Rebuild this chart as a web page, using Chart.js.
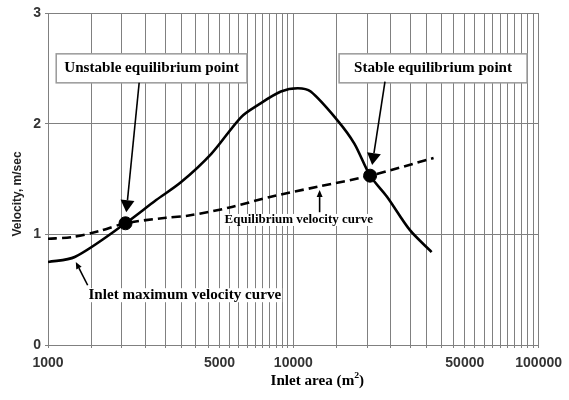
<!DOCTYPE html>
<html>
<head>
<meta charset="utf-8">
<script src="https://cdn.jsdelivr.net/npm/chart.js@4/dist/chart.umd.min.js"></script>
<style>html,body{margin:0;padding:0;background:#fff}</style>
</head>
<body>
<canvas id="velChart" width="569" height="400"></canvas>
<script>
// inlet maximum velocity curve (solid)
var inletArea = [1000, 1285, 2070, 2760, 3480, 4640, 6130, 7190, 8900, 10430, 11770, 15130, 17730, 20560, 24090, 29830, 36610];
var inletVelocity = [0.75, 0.795, 1.10, 1.31, 1.47, 1.73, 2.06, 2.17, 2.29, 2.32, 2.29, 2.03, 1.82, 1.53, 1.34, 1.04, 0.84];

// equilibrium velocity curve (dashed)
var equilArea = [1000, 1260, 1620, 2070, 3030, 3750, 5440, 8110, 12560, 20560, 37300];
var equilVelocity = [0.96, 0.975, 1.03, 1.10, 1.15, 1.17, 1.24, 1.34, 1.43, 1.53, 1.69];

// the two equilibrium points
var pointArea = [2070, 20560];
var pointVelocity = [1.10, 1.53];

var xTickLabels = [1000, 5000, 10000, 50000, 100000];
var yTickLabels = [0, 1, 2, 3];

function toXY(xs, ys) {
  return xs.map(function (x, i) { return {x: x, y: ys[i]}; });
}

// grid every 500 in first decade, every 5000 in the second
var xGrid = [];
for (var g = 1000; g < 10000; g += 500) xGrid.push(g);
for (var g2 = 10000; g2 <= 100000; g2 += 5000) xGrid.push(g2);

var serif = '"Liberation Serif", "Times New Roman", serif';
var sans = '"Liberation Sans", Arial, sans-serif';
var stretch = 1.08; // the scanned text is a bit wider than Liberation Serif

// callouts, positions in data units
var callouts = [
  {text: 'Unstable equilibrium point', at: [2644, 2.50], size: 14, box: 8,
   tail: [2353, 2.37], tip: [2085, 1.20], head: [12, 7]},
  {text: 'Stable equilibrium point', at: [37130, 2.50], size: 14, box: 15,
   tail: [23640, 2.38], tip: [20955, 1.626], head: [12, 7]},
  {text: 'Equilibrium velocity curve', at: [10525, 1.13], size: 12, box: 0,
   tail: [12800, 1.20], tip: [12800, 1.40], head: [7, 3]},
  {text: 'Inlet maximum velocity curve', at: [3611, 0.45], size: 14, box: 0,
   tail: [1451, 0.54], tip: [1298, 0.75], head: [7, 3]}
];

function arrow(ctx, x1, y1, x2, y2, len, half) {
  var a = Math.atan2(y2 - y1, x2 - x1);
  var bx = x2 - len * Math.cos(a), by = y2 - len * Math.sin(a);
  ctx.beginPath();
  ctx.moveTo(x1, y1);
  ctx.lineTo(bx, by);
  ctx.stroke();
  ctx.beginPath();
  ctx.moveTo(x2, y2);
  ctx.lineTo(bx + half * Math.sin(a), by - half * Math.cos(a));
  ctx.lineTo(bx - half * Math.sin(a), by + half * Math.cos(a));
  ctx.closePath();
  ctx.fill();
}

function wideText(ctx, text, x, y) {
  ctx.save();
  ctx.translate(x, y);
  ctx.scale(stretch, 1);
  ctx.fillText(text, 0, 0);
  ctx.restore();
}

var calloutPlugin = {
  id: 'callouts',
  afterDatasetsDraw: function (chart) {
    var ctx = chart.ctx, xs = chart.scales.x, ys = chart.scales.y;
    ctx.save();
    callouts.forEach(function (c) {
      var cx = xs.getPixelForValue(c.at[0]), cy = ys.getPixelForValue(c.at[1]);
      ctx.font = 'bold ' + c.size + 'px ' + serif;
      var w = ctx.measureText(c.text).width * stretch;
      if (c.box) {
        ctx.fillStyle = '#fff';
        ctx.strokeStyle = '#999';
        ctx.lineWidth = 1.5;
        ctx.fillRect(cx - w / 2 - c.box, cy - 14.5, w + 2 * c.box, 29);
        ctx.strokeRect(cx - w / 2 - c.box, cy - 14.5, w + 2 * c.box, 29);
      } else {
        ctx.fillStyle = '#fff';
        ctx.fillRect(cx - w / 2 - 1, cy - c.size / 2, w + 2, c.size);
      }
      ctx.fillStyle = '#000';
      ctx.textAlign = 'center';
      ctx.textBaseline = 'middle';
      wideText(ctx, c.text, cx, cy);
      ctx.strokeStyle = '#000';
      ctx.lineWidth = 1.6;
      arrow(ctx, xs.getPixelForValue(c.tail[0]), ys.getPixelForValue(c.tail[1]),
        xs.getPixelForValue(c.tip[0]), ys.getPixelForValue(c.tip[1]), c.head[0], c.head[1]);
    });

    // axis titles
    var area = chart.chartArea;
    ctx.fillStyle = '#000';
    ctx.textBaseline = 'middle';
    ctx.textAlign = 'left';
    var tx = (area.left + area.right) / 2 + 24, ty = area.bottom + 36;
    var t1 = 'Inlet area (m', t2 = ')';
    ctx.font = 'bold 14px ' + serif;
    var w1 = ctx.measureText(t1).width * stretch, w2 = ctx.measureText(t2).width * stretch;
    ctx.font = 'bold 9px ' + serif;
    var ws = ctx.measureText('2').width * stretch;
    var left = tx - (w1 + ws + w2) / 2;
    ctx.font = 'bold 14px ' + serif;
    wideText(ctx, t1, left, ty);
    wideText(ctx, t2, left + w1 + ws, ty);
    ctx.font = 'bold 9px ' + serif;
    wideText(ctx, '2', left + w1, ty - 5);

    ctx.translate(18, (area.top + area.bottom) / 2 + 15);
    ctx.rotate(-Math.PI / 2);
    ctx.textAlign = 'center';
    ctx.font = 'bold 12px ' + sans;
    ctx.fillStyle = '#222';
    ctx.fillText('Velocity, m/sec', 0, 0);
    ctx.restore();
  }
};

var ctx = document.getElementById('velChart').getContext('2d');
var myChart = new Chart(ctx, {
  type: 'scatter',
  data: {
    datasets: [{
      label: 'Inlet maximum velocity curve',
      data: toXY(inletArea, inletVelocity),
      showLine: true,
      borderColor: '#000',
      borderWidth: 2.6,
      pointRadius: 0,
      tension: 0.3
    }, {
      label: 'Equilibrium velocity curve',
      data: toXY(equilArea, equilVelocity),
      showLine: true,
      borderColor: '#000',
      borderWidth: 2.6,
      borderDash: [9, 5],
      pointRadius: 0,
      tension: 0.3
    }, {
      label: 'Equilibrium points',
      data: toXY(pointArea, pointVelocity),
      showLine: false,
      pointRadius: 6.5,
      backgroundColor: '#000',
      borderColor: '#000'
    }]
  },
  options: {
    responsive: false,
    animation: false,
    layout: {padding: {top: 13, right: 26, bottom: 0, left: 0}},
    plugins: {legend: {display: false}, tooltip: {enabled: false}},
    scales: {
      x: {
        type: 'logarithmic',
        min: 1000,
        max: 100000,
        afterBuildTicks: function (s) { s.ticks = xGrid.map(function (v) { return {value: v}; }); },
        afterFit: function (s) { s.height = 55; },
        grid: {color: '#808080', lineWidth: 1, tickLength: 3},
        border: {color: '#808080'},
        ticks: {
          autoSkip: false, maxRotation: 0, minRotation: 0, padding: 7, color: '#333',
          font: {family: sans, size: 14, weight: 'bold'},
          callback: function (v) { return xTickLabels.indexOf(v) >= 0 ? String(v) : ''; }
        }
      },
      y: {
        min: 0,
        max: 3,
        afterBuildTicks: function (s) { s.ticks = yTickLabels.map(function (v) { return {value: v}; }); },
        afterFit: function (s) { s.width = 48; },
        grid: {color: '#808080', lineWidth: 1, tickLength: 3},
        border: {color: '#808080'},
        ticks: {
          padding: 4, color: '#333',
          font: {family: sans, size: 14, weight: 'bold'}
        }
      }
    }
  },
  plugins: [calloutPlugin]
});
</script>
</body>
</html>
